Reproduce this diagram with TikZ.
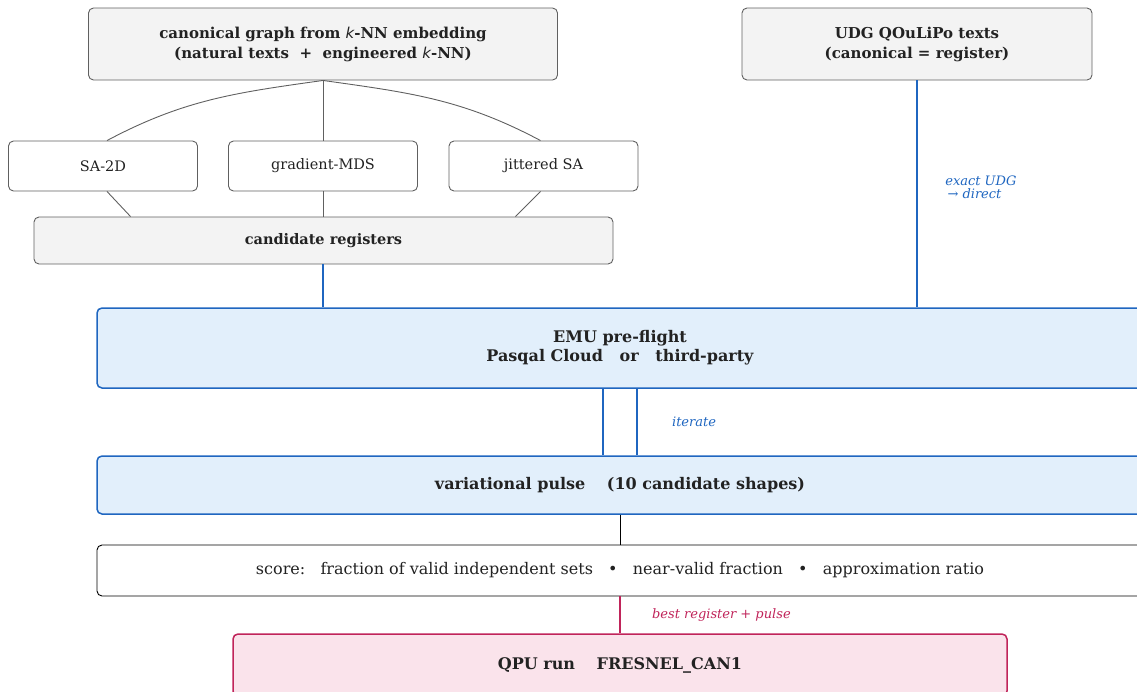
\documentclass[tikz,border=0pt]{standalone}
\usepackage{fontspec}
\setmainfont{DejaVu Serif}
\setsansfont{DejaVu Sans}
\usepackage{xcolor}
\usepackage{tikz}

\definecolor{boxgray}{HTML}{F3F3F3}
\definecolor{linegray}{HTML}{606060}
\definecolor{emublue}{HTML}{1F66C0}
\definecolor{emufill}{HTML}{E2EFFB}
\definecolor{qpured}{HTML}{C0245A}
\definecolor{qpufill}{HTML}{FAE3EB}
\definecolor{ink}{HTML}{222222}

\newcommand{\kk}{{\sffamily\mdseries\itshape k}}

\tikzset{
  srcbox/.style={draw=linegray, fill=boxgray, rounded corners=5pt, line width=0.9pt,
    align=center, text=ink, font=\fontsize{15}{20}\selectfont\bfseries},
  layoutbox/.style={draw=linegray, fill=white, rounded corners=5pt, line width=0.9pt,
    text=ink, font=\fontsize{14.5}{18}\selectfont, minimum width=189pt, minimum height=50pt},
  emubox/.style={draw=emublue, fill=emufill, rounded corners=5pt, line width=1.5pt,
    align=center, text=ink, font=\fontsize{16}{19}\selectfont\bfseries},
  scorebox/.style={draw=black, fill=white, rounded corners=5pt, line width=0.9pt,
    text=ink, font=\fontsize{16}{18}\selectfont},
  qpubox/.style={draw=qpured, fill=qpufill, rounded corners=5pt, line width=1.5pt,
    text=ink, font=\fontsize{16}{19}\selectfont\bfseries},
  edgelabel/.style={anchor=west, font=\fontsize{13}{12.5}\selectfont\itshape, align=left}
}

\begin{document}
\begin{tikzpicture}[x=1pt,y=-1pt]
  \useasboundingbox (0,0) rectangle (1137,691);
  \clip (0,0) rectangle (1137,691);

  % sources
  \node[srcbox, minimum width=469pt, minimum height=72pt] (knn) at (323,44)
    {canonical graph from \kk-NN embedding\\(natural texts\ \ +\ \ engineered \kk-NN)};
  \node[srcbox, minimum width=350pt, minimum height=72pt] (udg) at (917,44)
    {UDG QOuLiPo texts\\(canonical = register)};

  % layout methods
  \node[layoutbox] (sa2d) at (103,166) {SA-2D};
  \node[layoutbox] (gmds) at (323,166) {gradient-MDS};
  \node[layoutbox] (jsa) at (543.5,166) {jittered SA};
  \node[srcbox, font=\fontsize{14.5}{18}\selectfont\bfseries, minimum width=579pt, minimum height=47pt]
    (cand) at (323.5,240.5) {candidate registers};

  % emulation and pulse
  \node[emubox, minimum width=1046pt, minimum height=80pt] (emu) at (620,348)
    {EMU pre-flight\\Pasqal Cloud\ \ \ or\ \ \ third-party};
  \node[emubox, minimum width=1046pt, minimum height=58pt] (pulse) at (620,485)
    {variational pulse\quad\ (10 candidate shapes)};
  \node[scorebox, minimum width=1046pt, minimum height=51pt] (score) at (620,570.5)
    {score:\ \ \ fraction of valid independent sets\ \ \ •\ \ \ near-valid fraction\ \ \ •\ \ \ approximation ratio};
  \node[qpubox, minimum width=774pt, minimum height=62pt] (qpu) at (620,665)
    {QPU run\quad\ FRESNEL\textunderscore CAN1};

  % connectors
  \draw[linegray, line width=0.9pt] (knn.south) to[out=188, in=28] ([xshift=4pt]sa2d.north);
  \draw[linegray, line width=0.9pt] (knn.south) -- (gmds.north);
  \draw[linegray, line width=0.9pt] (knn.south) to[out=-8, in=152] ([xshift=-3pt]jsa.north);
  \draw[linegray, line width=0.9pt] ([xshift=4pt]sa2d.south) -- ([xshift=97pt]cand.north west);
  \draw[linegray, line width=0.9pt] (gmds.south) -- (gmds.south |- cand.north);
  \draw[linegray, line width=0.9pt] ([xshift=-3pt]jsa.south) -- ([xshift=-98pt]cand.north east);

  \draw[emublue, line width=1.5pt] (gmds.south |- cand.south) -- (gmds.south |- emu.north);
  \draw[emublue, line width=2pt] (udg.south) -- (udg.south |- emu.north)
    node[pos=0.47, edgelabel, emublue, xshift=24pt] {exact UDG\\\,→ direct};

  \draw[emublue, line width=1.5pt] ([xshift=-17pt]emu.south) -- ([xshift=-17pt]pulse.north);
  \draw[emublue, line width=1.5pt] ([xshift=17pt]emu.south) -- ([xshift=17pt]pulse.north)
    node[midway, edgelabel, emublue, xshift=31pt] {iterate};

  \draw[black, line width=0.9pt] (pulse.south) -- (score.north);
  \draw[qpured, line width=1.5pt] (score.south) -- (qpu.north)
    node[midway, edgelabel, qpured, xshift=28pt] {best register + pulse};
\end{tikzpicture}
\end{document}
